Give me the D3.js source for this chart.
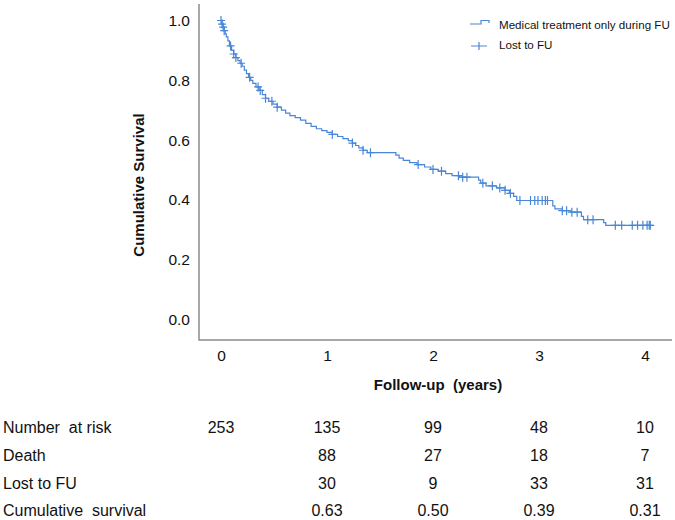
<!DOCTYPE html>
<html>
<head>
<meta charset="utf-8">
<script src="https://cdn.jsdelivr.net/npm/d3@7"></script>
<style>
  body { margin: 0; background: #fff; }
  text { font-family: "Liberation Sans", Arial, sans-serif; fill: #111; }
</style>
</head>
<body>
<div id="container"></div>
<script>
/* CONSTANTS AND GLOBALS */
const width = 675;
const height = 520;

// Kaplan-Meier steps (years, survival)
const stepTimes = [0, 0.01, 0.02, 0.03, 0.04, 0.05, 0.065, 0.08, 0.10, 0.12, 0.14, 0.16, 0.18, 0.20,
  0.22, 0.24, 0.26, 0.28, 0.30, 0.33, 0.36, 0.39, 0.42, 0.45, 0.49, 0.53, 0.57, 0.61, 0.65, 0.70,
  0.75, 0.80, 0.85, 0.90, 0.95, 1.00, 1.05, 1.10, 1.15, 1.20, 1.24, 1.27, 1.30, 1.34, 1.38,
  1.65, 1.68, 1.72, 1.78, 1.85, 1.92, 1.98, 2.05, 2.12, 2.18, 2.25, 2.43, 2.45, 2.50, 2.60,
  2.68, 2.72, 2.76, 2.79, 3.13, 3.15, 3.22, 3.30, 3.40, 3.42, 3.61, 3.63, 4.05];
const stepSurv = [1.0, 0.988, 0.978, 0.966, 0.955, 0.945, 0.932, 0.915, 0.900, 0.888, 0.876, 0.866, 0.857, 0.847,
  0.834, 0.822, 0.810, 0.800, 0.790, 0.778, 0.766, 0.752, 0.740, 0.730, 0.720, 0.710, 0.700, 0.690, 0.682, 0.675,
  0.667, 0.656, 0.646, 0.638, 0.632, 0.626, 0.619, 0.612, 0.605, 0.598, 0.590, 0.582, 0.574, 0.566, 0.558,
  0.550, 0.540, 0.532, 0.525, 0.518, 0.510, 0.502, 0.496, 0.488, 0.481, 0.476, 0.466, 0.456, 0.447, 0.440,
  0.432, 0.422, 0.412, 0.398, 0.380, 0.370, 0.364, 0.359, 0.345, 0.334, 0.324, 0.315, 0.315];

// censored cases (lost to FU), years
const censorTimes = [0, 0.01, 0.02, 0.03, 0.09, 0.12, 0.14, 0.19, 0.27, 0.35, 0.37, 0.42, 0.48, 0.53,
  1.05, 1.24, 1.34, 1.41, 1.86, 2.0, 2.08, 2.24, 2.28, 2.32, 2.47, 2.56, 2.63, 2.68, 2.73,
  2.82, 2.92, 2.96, 2.99, 3.03, 3.06, 3.08, 3.22, 3.26, 3.31, 3.36, 3.46, 3.51,
  3.72, 3.78, 3.88, 3.93, 3.98, 4.02, 4.04, 4.05];

const xTicks = [0, 1, 2, 3, 4];
const yTicks = [0, 0.2, 0.4, 0.6, 0.8, 1.0];

// risk table
const rowLabels = ["Number  at risk", "Death", "Lost to FU", "Cumulative  survival"];
const atRisk = [253, 135, 99, 48, 10];
const deaths = ["", 88, 27, 18, 7];
const lostFU = ["", 30, 9, 33, 31];
const cumSurv = ["", "0.63", "0.50", "0.39", "0.31"];

const legendLabels = ["Medical treatment only during FU", "Lost to FU"];

const blue = "#4a86d6";

const svg = d3.select("#container")
  .append("svg")
  .attr("width", width)
  .attr("height", height);

/* SCALES */
const xScale = d3.scaleLinear().domain([0, 4]).range([221, 645]);
const yScale = d3.scaleLinear().domain([0, 1]).range([319.5, 20.5]);

const axisX = 199, axisY = 340;

// axis lines
svg.append("path")
  .attr("d", `M${axisX},4V${axisY}H672`)
  .attr("fill", "none")
  .attr("stroke", "#8c8c8c")
  .attr("stroke-width", 1.5);

const yAxis = svg.append("g")
  .attr("transform", `translate(${axisX},0)`)
  .call(d3.axisLeft(yScale).tickValues(yTicks).tickFormat(d3.format(".1f")).tickSize(0).tickPadding(9));
yAxis.select(".domain").remove();
yAxis.selectAll("text").attr("font-size", 15.5).attr("font-family", null).attr("fill", "#111");

const xAxis = svg.append("g")
  .attr("transform", `translate(0,${axisY})`)
  .call(d3.axisBottom(xScale).tickValues(xTicks).tickFormat(d3.format("d")).tickSize(0).tickPadding(10));
xAxis.select(".domain").remove();
xAxis.selectAll("text").attr("font-size", 15.5).attr("font-family", null).attr("fill", "#111");

// axis titles
svg.append("text")
  .attr("transform", "translate(144,185) rotate(-90)")
  .attr("text-anchor", "middle")
  .attr("font-size", 15)
  .attr("font-weight", "bold")
  .text("Cumulative Survival");

svg.append("text")
  .attr("x", 438)
  .attr("y", 390)
  .attr("text-anchor", "middle")
  .attr("font-size", 15)
  .attr("font-weight", "bold")
  .style("white-space", "pre")
  .text("Follow-up  (years)");

/* CURVE */
const km = stepTimes.map((t, i) => ({ t: t, s: stepSurv[i] }));

const line = d3.line()
  .x(d => xScale(d.t))
  .y(d => yScale(d.s))
  .curve(d3.curveStepAfter);

svg.append("path")
  .datum(km)
  .attr("d", line)
  .attr("fill", "none")
  .attr("stroke", blue)
  .attr("stroke-width", 1.2);

// censor marks sit on the step curve
const bis = d3.bisector(d => d.t).right;
const survAt = t => km[Math.max(0, bis(km, t) - 1)].s;

svg.selectAll(".censor")
  .data(censorTimes)
  .join("path")
  .attr("class", "censor")
  .attr("d", t => {
    const cx = xScale(t), cy = yScale(survAt(t));
    return `M${cx - 4},${cy}H${cx + 4}M${cx},${cy - 4.5}V${cy + 4.5}`;
  })
  .attr("stroke", blue)
  .attr("stroke-width", 1.2);

/* LEGEND */
svg.append("path")
  .attr("d", "M470,24H481V20.5H489V23")
  .attr("fill", "none")
  .attr("stroke", blue)
  .attr("stroke-width", 1.2);
svg.append("path")
  .attr("d", "M471,46H487M479,42V50")
  .attr("stroke", blue)
  .attr("stroke-width", 1.2);

svg.selectAll(".leg")
  .data(legendLabels)
  .join("text")
  .attr("class", "leg")
  .attr("x", 499)
  .attr("y", (d, i) => 28.5 + i * 20)
  .attr("font-size", 11.6)
  .text(d => d);

/* RISK TABLE */
const rows = [atRisk, deaths, lostFU, cumSurv];
const rowY = [433, 461, 489, 516];

svg.selectAll(".rowlab")
  .data(rowLabels)
  .join("text")
  .attr("class", "rowlab")
  .attr("x", 3)
  .attr("y", (d, i) => rowY[i])
  .attr("font-size", 16)
  .style("white-space", "pre")
  .text(d => d);

rows.forEach((vals, r) => {
  svg.selectAll(".cell" + r)
    .data(vals)
    .join("text")
    .attr("class", "cell" + r)
    .attr("x", (d, i) => xScale(xTicks[i]))
    .attr("y", rowY[r])
    .attr("text-anchor", "middle")
    .attr("font-size", 16)
    .text(d => d);
});
</script>
</body>
</html>
